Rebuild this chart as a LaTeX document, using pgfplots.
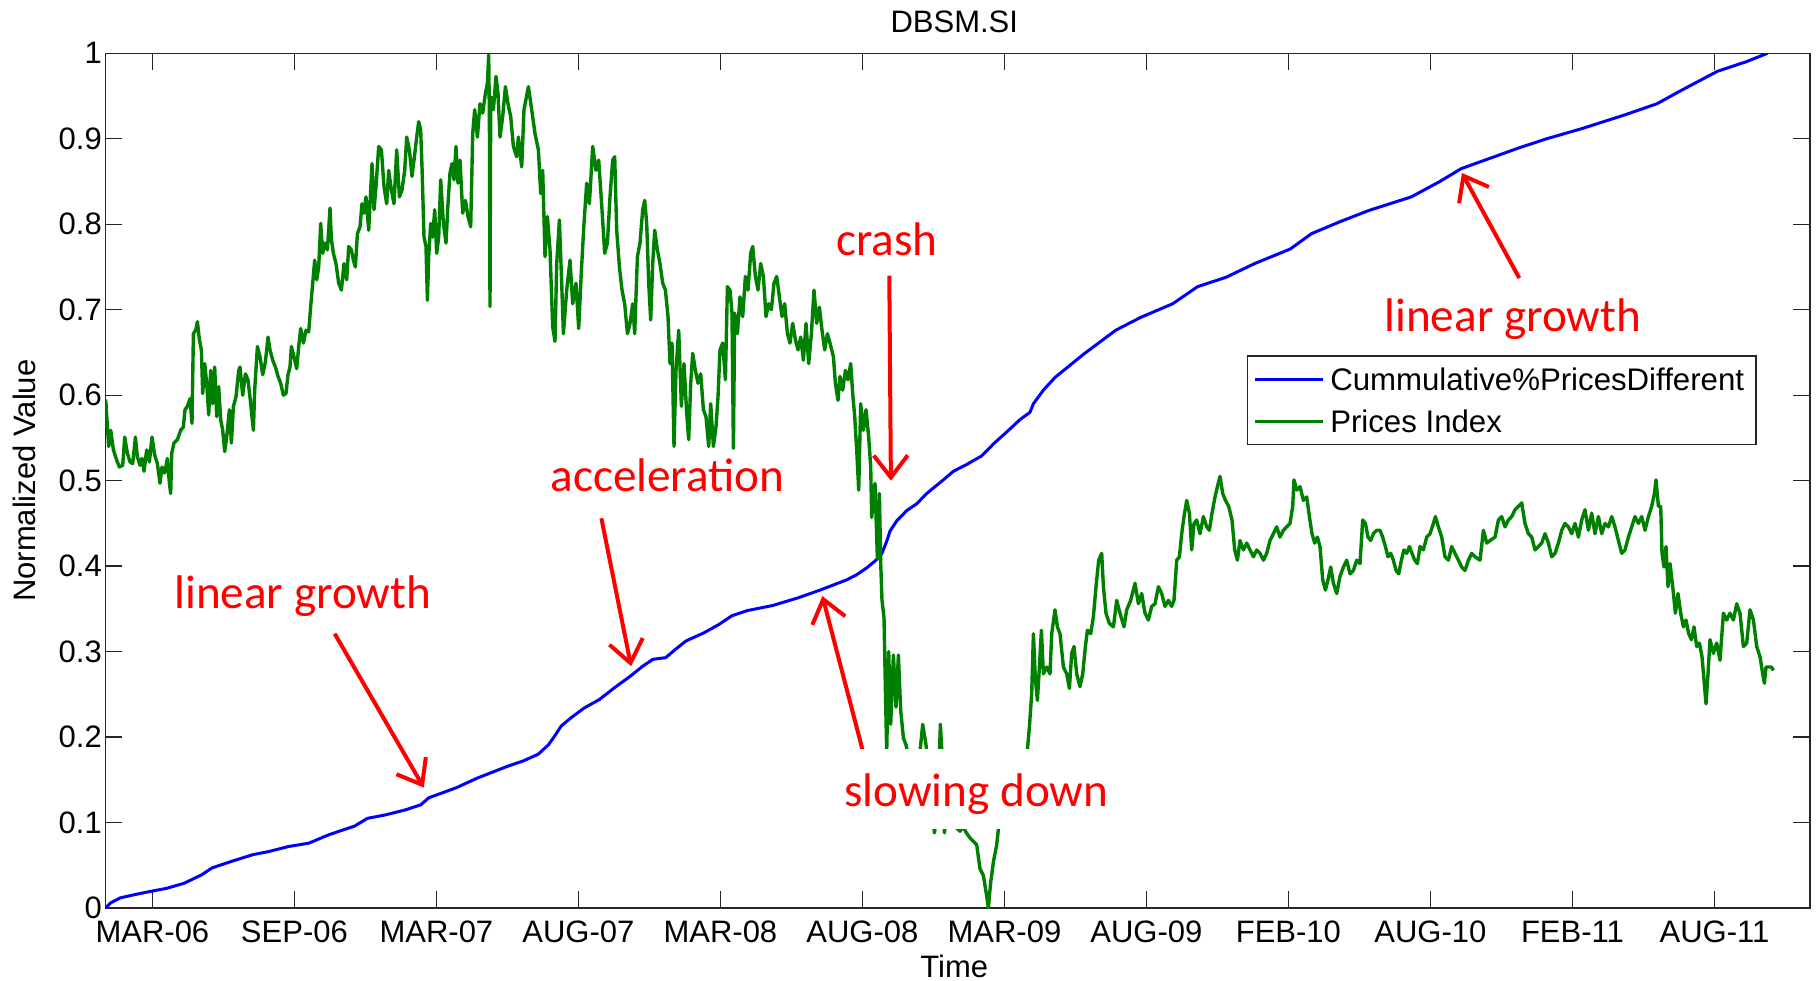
\documentclass[border=0pt]{standalone}
\usepackage{fontspec}
\setmainfont{Liberation Sans}
\newfontfamily\calib{Carlito}
\usepackage{pgfplots}
\pgfplotsset{compat=1.18}
\usetikzlibrary{arrows.meta}
\definecolor{mgreen}{RGB}{0,128,0}
\definecolor{axgray}{RGB}{38,38,38}
\tikzset{
  ann/.style={font=\calib\fontsize{23.6bp}{28bp}\selectfont, text=red, inner sep=0pt, anchor=base},
  arr/.style={red, line width=2bp, -{Straight Barb[length=11bp, width=17bp]}}
}
\begin{document}
\begin{tikzpicture}
\useasboundingbox (-52.7bp,-36.45bp) rectangle (855.3bp,454.05bp);
\begin{axis}[
  scale only axis, width=852.3bp, height=427.4bp,
  xmin=0, xmax=1704.6, ymin=0, ymax=1,
  xtick={47,189,331,473,615,757,899,1041,1183,1325,1467,1609},
  xticklabels={MAR-06,SEP-06,MAR-07,AUG-07,MAR-08,AUG-08,MAR-09,AUG-09,FEB-10,AUG-10,FEB-11,AUG-11},
  ytick={0,0.1,0.2,0.3,0.4,0.5,0.6,0.7,0.8,0.9,1},
  yticklabels={0,0.1,0.2,0.3,0.4,0.5,0.6,0.7,0.8,0.9,1},
  xtick pos=both, ytick pos=both,
  tick align=inside, major tick length=8.5bp,
  axis line style={axgray, line width=0.7bp},
  every tick/.style={axgray, line width=0.7bp},
  tick label style={font=\fontsize{15.5bp}{18bp}\selectfont, text=black},
  xticklabel style={yshift=-2.8bp},
  yticklabel style={xshift=1.7bp},
  title=DBSM.SI,
  title style={at={(axis description cs:0.498,1)}, anchor=center, yshift=9.9bp, inner sep=0pt, font=\fontsize{15.5bp}{18bp}\selectfont},
  xlabel=Time,
  xlabel style={at={(axis description cs:0.498,0)}, anchor=center, yshift=-29.2bp, inner sep=0pt, font=\fontsize{15.5bp}{18bp}\selectfont},
  ylabel=Normalized Value,
  ylabel style={at={(axis description cs:-0.0475,0.5)}, anchor=center, inner sep=0pt, font=\fontsize{15.5bp}{18bp}\selectfont},
  legend style={at={(rel axis cs:0.6697,0.6467)}, anchor=north west,
    draw=axgray, line width=0.7bp, fill=white,
    inner xsep=3bp, inner ysep=1bp,
    font=\fontsize{15.6bp}{18bp}\selectfont,
    row sep=0bp,
    nodes={inner xsep=3bp, inner ysep=5bp, text height=11.2bp, text depth=0bp}},
  legend cell align=left,
  legend image code/.code={\draw[#1, line width=1.5bp] (0bp,0bp) -- (33.8bp,0bp);},
]
\addplot[blue, line width=1.5bp] coordinates {
(0,0) (5.1,0.006) (15,0.012) (30.2,0.016) (47,0.020) (60.8,0.023) (78.6,0.029) (96.4,0.039) (106.6,0.047) (127,0.055) (147.4,0.0625) (162.7,0.066) (183,0.072) (203.5,0.076) (223.9,0.086) (249.3,0.096) (262,0.105) (279.9,0.109) (300.3,0.115) (315.6,0.121) (323.3,0.129) (351.3,0.141) (371.7,0.152) (402.3,0.166) (417.5,0.172) (432.8,0.180) (443,0.191) (449.1,0.201) (455.8,0.213) (466,0.223) (478.7,0.234) (494,0.244) (509.3,0.258) (524.6,0.271) (537.3,0.283) (547.5,0.291) (560.3,0.293) (570.4,0.303) (580.6,0.3125) (598.5,0.322) (613.8,0.332) (626.5,0.342) (641.8,0.348) (667.3,0.354) (692.8,0.363) (714.6,0.372) (728,0.378) (741.3,0.384) (751.3,0.390) (761.3,0.398) (769.6,0.406) (776.3,0.4145) (781.3,0.429) (784.6,0.441) (791.3,0.453) (801.3,0.465) (811.3,0.473) (821.3,0.485) (829.6,0.493) (838,0.501) (848,0.511) (861.3,0.519) (876.3,0.529) (888,0.543) (901.3,0.557) (914.6,0.5715) (924.6,0.580) (928,0.590) (938,0.606) (949.8,0.621) (978.2,0.648) (1010.3,0.676) (1035.2,0.691) (1067.3,0.707) (1092.2,0.727) (1120.7,0.738) (1149.2,0.754) (1184.8,0.771) (1206.1,0.789) (1234.6,0.803) (1263.1,0.816) (1305.9,0.832) (1334.4,0.850) (1355.7,0.865) (1384.2,0.877) (1412.7,0.889) (1441.2,0.900) (1476.8,0.912) (1519.6,0.928) (1551.6,0.941) (1576.5,0.957) (1612.1,0.979) (1640.6,0.990) (1662,1.0)
};
\addlegendentry{Cummulative\%PricesDifferent}
\addplot[mgreen, line width=1.7bp, line join=round] coordinates {
(0,0.595) (0.6,0.590) (2,0.563) (3.3,0.540) (5.3,0.559) (8,0.536) (11.3,0.524) (14,0.516) (17.3,0.518) (19.3,0.551) (22,0.532) (24.6,0.522) (27.3,0.520) (30,0.551) (32,0.528) (34.6,0.518) (36.6,0.526) (38.6,0.511) (41.3,0.536) (44,0.522) (46.6,0.551) (49.3,0.530) (52,0.520) (54.6,0.497) (56.6,0.516) (59.3,0.509) (62,0.526) (64,0.497) (65.3,0.485) (66.3,0.532) (68.6,0.544) (72,0.548) (75.3,0.559) (78,0.563) (79.6,0.583) (82,0.587) (84.6,0.596) (86.6,0.567) (88,0.672) (90.3,0.676) (92,0.686) (94,0.665) (96,0.653) (97.3,0.602) (99.3,0.637) (101.3,0.614) (103.3,0.577) (105.3,0.629) (107.3,0.590) (109.3,0.633) (111.3,0.575) (113.3,0.610) (115.3,0.571) (117.3,0.559) (119.3,0.534) (121.3,0.551) (124,0.583) (126,0.544) (128,0.587) (130.6,0.598) (133.3,0.629) (134.6,0.633) (137.3,0.600) (140,0.625) (142.6,0.618) (145.3,0.590) (148,0.559) (149.3,0.606) (152,0.657) (154.6,0.645) (157.3,0.624) (160,0.639) (162.6,0.668) (164.6,0.653) (167.3,0.641) (170,0.633) (172.6,0.622) (175.3,0.614) (178,0.600) (180.6,0.602) (182.6,0.624) (184.6,0.633) (186,0.657) (188.6,0.645) (191.3,0.631) (193.3,0.657) (195.3,0.678) (198,0.661) (200.6,0.676) (203.3,0.674) (205.3,0.704) (207.3,0.731) (209.3,0.758) (211.3,0.735) (213.3,0.750) (215.3,0.801) (217.3,0.766) (219.3,0.778) (222,0.770) (224.6,0.819) (226,0.782) (228,0.766) (230.6,0.754) (233.3,0.731) (236,0.723) (238.6,0.754) (241.3,0.735) (243.3,0.774) (246,0.770) (248,0.758) (250,0.750) (252,0.789) (254.6,0.797) (256.6,0.824) (258.6,0.813) (260.6,0.832) (263.3,0.793) (265.3,0.840) (266.6,0.871) (268.6,0.817) (270.6,0.844) (273.3,0.891) (276,0.887) (278.6,0.844) (281.3,0.824) (283.3,0.863) (286,0.840) (288.6,0.824) (291.3,0.887) (294,0.832) (296.6,0.840) (299.3,0.863) (301.3,0.902) (304,0.887) (306.6,0.856) (308.6,0.875) (311.3,0.902) (313.3,0.920) (315.3,0.910) (316.6,0.867) (318.6,0.785) (320.6,0.774) (322,0.711) (323.3,0.762) (325.3,0.801) (327.3,0.785) (329.3,0.817) (331.3,0.766) (333.3,0.785) (335.3,0.852) (338,0.801) (340.6,0.778) (342.6,0.824) (344.6,0.860) (346.6,0.871) (348.6,0.852) (350.6,0.891) (352.6,0.848) (354.6,0.875) (357.3,0.813) (360,0.828) (362.6,0.809) (365.3,0.797) (367.3,0.906) (369.3,0.934) (372,0.902) (374.6,0.941) (377.3,0.930) (380,0.953) (382,0.965) (383.3,0.998) (384,0.926) (384.6,0.704) (385.3,0.949) (388,0.934) (390.6,0.973) (392.6,0.953) (394.6,0.902) (397.3,0.926) (400,0.961) (402.6,0.941) (405.3,0.926) (408,0.891) (411.3,0.879)
(413,0.902) (416.3,0.867) (418.6,0.934) (423,0.961) (426.3,0.934) (429.6,0.906) (433,0.887) (435.3,0.836) (437.3,0.863) (439.6,0.762) (442,0.809) (444.6,0.770) (447.3,0.680) (449.6,0.663) (451.3,0.754) (454,0.805) (456.3,0.731) (458,0.672) (461.3,0.723) (464.6,0.758) (467.3,0.707) (470.6,0.731) (473.3,0.678) (476,0.746) (478.6,0.801) (481.3,0.848) (484,0.824) (487.3,0.891) (490.6,0.863) (493.3,0.875) (496.6,0.817) (499.3,0.766) (502,0.778) (504.6,0.832) (507.3,0.875) (509.3,0.879) (511.3,0.793) (514,0.750) (516.6,0.723) (519.3,0.707) (522,0.672) (524.6,0.684) (527.3,0.707) (529.3,0.672) (532,0.762) (534.6,0.778) (537.3,0.817) (539.3,0.828) (541.3,0.801) (543.3,0.731) (545.3,0.688) (547.3,0.754) (549.3,0.793) (552,0.770) (554.6,0.754) (557.3,0.731) (560,0.723) (562.6,0.692) (564.6,0.637) (566.6,0.661) (568.6,0.540) (570.6,0.629) (573.3,0.676) (576,0.587) (578.6,0.637) (581.3,0.579) (583.3,0.548) (585.3,0.614) (587.3,0.649) (590,0.629) (592.6,0.614) (595.3,0.625) (598,0.583) (600.6,0.575) (603.3,0.540) (605.3,0.590) (608,0.540) (610.6,0.563) (612.6,0.598) (614.6,0.653) (617.3,0.661) (620,0.618) (622,0.727) (624.6,0.723) (626.6,0.696) (628,0.538) (629.3,0.696) (632,0.672) (634.6,0.715) (637.3,0.692) (640,0.739) (642.6,0.723) (645.3,0.766) (647.3,0.774) (650,0.739) (652.6,0.723) (655.3,0.754) (658,0.739) (660.6,0.692) (663.3,0.707) (666,0.700) (668.6,0.731) (671.3,0.739) (674,0.715) (676.6,0.692) (679.3,0.707) (682,0.672) (684.6,0.661) (687.3,0.684) (690,0.665) (692.6,0.653) (695.3,0.668) (698,0.641) (700.6,0.684) (703.3,0.637) (706,0.672) (708.6,0.723) (711.3,0.684) (714,0.703) (716.6,0.676) (719.3,0.653) (722,0.672) (724.6,0.661) (728,0.645) (730,0.614) (732.6,0.594) (734.6,0.622) (737.3,0.606) (740,0.629) (742.6,0.618) (745.3,0.637) (747.3,0.602) (749.3,0.575) (751.3,0.536) (753.3,0.489) (755.3,0.590) (758,0.559) (760.6,0.583) (763.3,0.551) (765.3,0.516)
(766.3,0.457) (769.6,0.497) (772,0.4085) (774,0.485) (775.3,0.404) (776.6,0.360) (778.6,0.340) (780,0.2555) (781.3,0.183) (783.3,0.300) (785.3,0.215) (788,0.296) (790.6,0.235) (793,0.296) (795.3,0.231) (798,0.199) (800.6,0.191) (802,0.183) (805,0.14) (808,0.17) (811,0.125) (814.6,0.183) (817.3,0.215) (820.6,0.191) (823,0.16) (826,0.125) (829,0.088) (832,0.11) (835,0.215) (837,0.17) (839,0.088) (842,0.12) (846,0.105) (850,0.095) (854.6,0.09) (858,0.095) (861,0.088) (864.6,0.082) (868,0.078) (871.3,0.074) (874.6,0.046) (878,0.038) (881.3,0.014) (883,0.0) (884,0.014) (885.3,0.030) (888,0.054) (891.3,0.074) (893,0.0925) (896,0.12) (900,0.15) (904,0.13) (908,0.16) (912,0.14) (916,0.17) (920,0.16)
(922,0.185) (924,0.212) (926.3,0.251) (928,0.321) (930,0.267) (932,0.243) (934,0.282) (936,0.325) (938,0.274) (941.3,0.282) (944.6,0.274) (946.3,0.321) (949.6,0.349) (952,0.329) (954.6,0.321) (958,0.282) (961.3,0.274) (964,0.257) (966.3,0.298) (968.6,0.306) (971.3,0.274) (974.6,0.259) (977.3,0.274) (980,0.306) (982,0.325) (985.3,0.321) (988,0.341) (990.6,0.376) (993.3,0.407) (996.3,0.415) (998,0.376) (1000.6,0.345) (1004,0.333) (1008,0.329) (1011.3,0.360) (1014.6,0.345) (1018.6,0.329) (1021.3,0.349) (1025.3,0.360) (1029.6,0.380) (1033,0.356) (1036.3,0.368) (1039.6,0.345) (1043,0.337) (1046.3,0.353) (1049.6,0.356) (1053,0.376) (1056.3,0.368) (1059.6,0.353) (1063,0.360) (1066.3,0.353) (1068.6,0.360) (1071.3,0.407) (1074,0.411) (1076.3,0.438) (1078.6,0.458) (1081.3,0.477) (1084,0.462) (1086.3,0.419) (1088.6,0.450) (1091.3,0.454) (1094.6,0.438) (1098,0.458) (1101.3,0.446) (1104,0.442) (1106.6,0.462) (1109.6,0.481) (1112,0.493) (1114.6,0.505) (1117.3,0.485) (1120,0.477) (1123.3,0.470) (1126.6,0.454) (1129.3,0.419) (1132,0.407) (1134.6,0.430) (1138,0.419) (1141.3,0.427) (1144.6,0.419) (1148,0.411) (1151.3,0.419) (1154.6,0.415) (1158,0.407) (1161.3,0.415) (1164.6,0.430) (1168,0.438) (1171.3,0.446) (1174.6,0.434) (1178,0.442) (1181.3,0.446) (1184.6,0.450) (1187.3,0.470) (1188.6,0.501) (1191.3,0.489) (1194.6,0.493) (1198,0.477) (1201.3,0.481) (1204,0.458) (1206.6,0.438) (1209.3,0.427) (1212,0.434) (1214.6,0.423) (1217.3,0.384) (1220,0.372) (1222.6,0.384) (1225.3,0.399) (1228,0.380) (1231.3,0.368) (1234.6,0.388) (1238,0.399) (1241.3,0.407) (1244.6,0.391) (1248,0.395) (1251.3,0.407) (1254.6,0.403) (1257.3,0.454) (1260,0.450) (1262.6,0.434) (1265.3,0.430) (1268,0.438) (1271.3,0.442) (1274.6,0.442) (1277.3,0.434) (1280,0.423) (1282.6,0.411) (1285.3,0.415) (1288,0.407) (1290.6,0.395) (1293.3,0.391) (1296,0.407) (1298.6,0.419) (1301.3,0.415) (1304,0.423) (1306.6,0.415) (1309.3,0.407) (1312,0.403) (1314.6,0.423)
(1318,0.419) (1321.3,0.434) (1324.6,0.438) (1328,0.450) (1330,0.458) (1333,0.446) (1336.3,0.434) (1339.6,0.411) (1343,0.407) (1346.3,0.423) (1349.6,0.415) (1353,0.407) (1356.3,0.399) (1359.6,0.395) (1363,0.407) (1366.3,0.415) (1369.6,0.411) (1374.6,0.407) (1378,0.442) (1381.3,0.427) (1384.6,0.430) (1389.6,0.434) (1393,0.454) (1396.3,0.458) (1399.6,0.446) (1403,0.454) (1406.3,0.458) (1409.6,0.466) (1413,0.470) (1416.3,0.474) (1419.6,0.450) (1423,0.438) (1426.3,0.434) (1429.6,0.419) (1433,0.423) (1436.3,0.427) (1439.6,0.438) (1443,0.427) (1446.3,0.411) (1449.6,0.415) (1453,0.427) (1456.3,0.442) (1459.6,0.450) (1463,0.446) (1466.3,0.438) (1469.6,0.450) (1473,0.434) (1476.3,0.454) (1479.6,0.466) (1483,0.442) (1486.3,0.462) (1489.6,0.438) (1493,0.458) (1496.3,0.438) (1499.6,0.450) (1503,0.446) (1506.3,0.458) (1509.6,0.446) (1513,0.430) (1516.3,0.415) (1519.6,0.419) (1523,0.434) (1526.3,0.446) (1529.6,0.458) (1533,0.450) (1536.3,0.458) (1539.6,0.442) (1543,0.458) (1546.3,0.470) (1549,0.485) (1550.6,0.501) (1553,0.470) (1555.3,0.470) (1556.6,0.415) (1558.6,0.399) (1560.6,0.423) (1562.6,0.376) (1564.6,0.403) (1567.3,0.376) (1570,0.345) (1572.6,0.368) (1575.3,0.345) (1578,0.329) (1580.6,0.337) (1583.3,0.321) (1586,0.314) (1588.6,0.329) (1591.3,0.306) (1594,0.310) (1596.6,0.294) (1598.6,0.267) (1600.6,0.239) (1602.6,0.274) (1604.6,0.314) (1608,0.298) (1611.3,0.310) (1614.6,0.290) (1618,0.345) (1621.3,0.337) (1624.6,0.345) (1628,0.337) (1631.3,0.356) (1634.6,0.345) (1638,0.306) (1641.3,0.310) (1644.6,0.349) (1648,0.337) (1651.3,0.306) (1654.6,0.294) (1657.3,0.274) (1659,0.263) (1660.6,0.282) (1663.3,0.282) (1666,0.282) (1668,0.278)
};
\addlegendentry{Prices Index}
\draw[arr] (axis cs:229.3,0.321) -- (axis cs:318.4,0.141);
\draw[arr] (axis cs:496,0.456) -- (axis cs:525.7,0.283);
\draw[arr] (axis cs:783.9,0.740) -- (axis cs:785.5,0.500);
\draw[arr] (axis cs:765,0.15) -- (axis cs:717,0.365);
\draw[arr] (axis cs:1413.9,0.737) -- (axis cs:1356.5,0.860);
\node[ann] at (axis cs:197.4,0.351) {linear growth};
\node[ann] at (axis cs:562.2,0.487) {acceleration};
\node[ann] at (axis cs:781.6,0.764) {crash};
\node[ann, fill=white, text height=20bp, text depth=2.5bp, inner xsep=6bp, inner ysep=8.6bp] at (axis cs:870.8,0.119) {slowing down};
\node[ann] at (axis cs:1407.5,0.675) {linear growth};
\end{axis}
\end{tikzpicture}
\end{document}
